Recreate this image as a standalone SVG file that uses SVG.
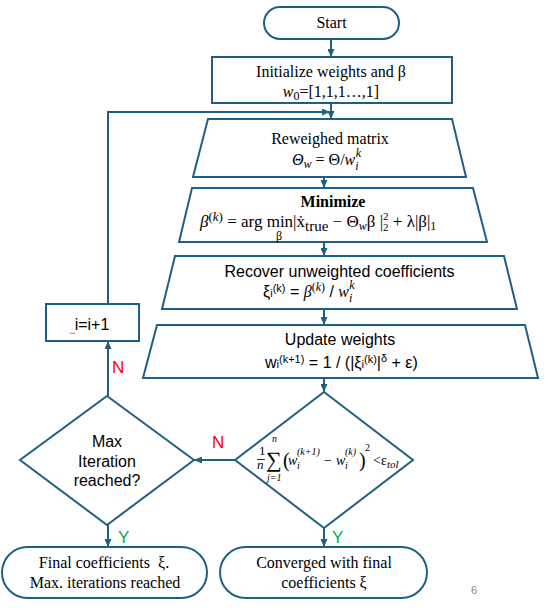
<svg xmlns="http://www.w3.org/2000/svg" width="550" height="610" viewBox="0 0 550 610">
<defs>
<marker id="ah" markerWidth="8" markerHeight="7" refX="8" refY="3.5" orient="auto" markerUnits="userSpaceOnUse">
<path d="M0,0 L8,3.5 L0,7 z" fill="#1f6082"/>
</marker>
<style>
.s{fill:#fff;stroke:#1f6082;stroke-width:2}
.c{fill:none;stroke:#1f6082;stroke-width:2}
.t{font-family:"Liberation Serif","Times New Roman",serif;font-size:16px;fill:#000}
.a{font-family:"Liberation Sans",Arial,sans-serif;font-size:16px;fill:#000}
.m{font-family:"Liberation Serif","Times New Roman",serif;fill:#000}
.i{font-style:italic}
.lab{font-family:"Liberation Sans",Arial,sans-serif;font-size:17px}
</style>
</defs>
<rect width="550" height="610" fill="#fff"/>

<g id="connectors">
<path class="c" d="M331,39 V57" marker-end="url(#ah)"/>
<path class="c" d="M331,103 V119" marker-end="url(#ah)"/>
<path class="c" d="M108,304 V112 H330" marker-end="url(#ah)"/>
<path class="c" d="M324,177 V188" marker-end="url(#ah)"/>
<path class="c" d="M324,242 V256" marker-end="url(#ah)"/>
<path class="c" d="M324,309 V325" marker-end="url(#ah)"/>
<path class="c" d="M324,378 V392" marker-end="url(#ah)"/>
<path class="c" d="M235,460 H194" marker-end="url(#ah)"/>
<path class="c" d="M108,396 V341" marker-end="url(#ah)"/>
<path class="c" d="M108,525 V547" marker-end="url(#ah)"/>
<path class="c" d="M324,528 V547" marker-end="url(#ah)"/>
<text class="lab" x="112" y="373" fill="#ff0000">N</text>
<text class="lab" x="212" y="448" fill="#ff0000">N</text>
<text class="lab" x="118" y="543" fill="#00b050">Y</text>
<text class="lab" x="332" y="543" fill="#00b050">Y</text>
</g>

<g id="start">
<rect class="s" x="264" y="7" width="135" height="32" rx="16"/>
<text class="t" x="331.5" y="28" text-anchor="middle">Start</text>
</g>

<g id="init">
<rect class="s" x="212" y="57" width="240" height="46"/>
<text class="t" x="331" y="77" text-anchor="middle">Initialize weights and β</text>
<text class="t" x="331" y="97" text-anchor="middle"><tspan class="i">w</tspan><tspan font-size="12" dy="3">0</tspan><tspan dy="-3">=[1,1,1…,1]</tspan></text>
</g>

<g id="reweigh">
<path class="s" d="M208,119 H452 L466,177 H193 Z"/>
<text class="t" x="330" y="144" text-anchor="middle">Reweighed matrix</text>
<text class="m" font-size="16" x="292" y="165"><tspan class="i">Θ</tspan><tspan class="i" font-size="12" dy="3">w</tspan><tspan dy="-3"> = Θ/</tspan><tspan class="i">w</tspan><tspan class="i" font-size="12" dy="5">i</tspan><tspan class="i" font-size="12" dx="-3" dy="-13">k</tspan></text>
</g>

<g id="minimize">
<path class="s" d="M192,188 H473 L487,242 H179 Z"/>
<text class="t" x="333" y="207" text-anchor="middle" font-weight="bold">Minimize</text>
<text class="m" font-size="17" x="200" y="227"><tspan class="i">β</tspan><tspan font-size="13" dy="-6">(</tspan><tspan font-size="13" class="i">k</tspan><tspan font-size="13">)</tspan><tspan dy="6"> = arg min|ẋ</tspan><tspan font-size="15" dy="4">true</tspan><tspan dy="-4"> − Θ</tspan><tspan class="i" font-size="12" dy="3">w</tspan><tspan dy="-3">β |</tspan><tspan font-size="11" dy="-7">2</tspan><tspan font-size="11" dx="-5.5" dy="11">2</tspan><tspan dy="-4"> + λ|β|</tspan><tspan font-size="12" dy="3">1</tspan></text>
<text class="m" x="276" y="240" font-size="12">β</text>
</g>

<g id="recover">
<path class="s" d="M175,256 H504 L517,309 H162 Z"/>
<text class="a" x="339.5" y="277" text-anchor="middle">Recover unweighted coefficients</text>
<text class="a" x="263" y="297">ξ<tspan font-size="11">i</tspan><tspan font-size="11" dy="-5">(k)</tspan><tspan dy="5"> = </tspan><tspan class="m i" font-size="16">β</tspan><tspan class="m" font-size="12" dy="-6">(</tspan><tspan class="m i" font-size="12">k</tspan><tspan class="m" font-size="12">)</tspan><tspan dy="6"> / </tspan><tspan class="m i" font-size="16">w</tspan><tspan class="m i" font-size="12" dy="5">i</tspan><tspan class="m i" font-size="12" dx="-3" dy="-13">k</tspan></text>
</g>

<g id="update">
<path class="s" d="M157,325 H525 L538,378 H143 Z"/>
<text class="a" x="340" y="345" text-anchor="middle">Update weights</text>
<text class="a" x="265" y="368">w<tspan font-size="11">i</tspan><tspan font-size="11" dy="-5">(k+1)</tspan><tspan dy="5"> = 1 / (|ξ</tspan><tspan font-size="11">i</tspan><tspan font-size="11" dy="-5">(k)</tspan><tspan dy="5">|</tspan><tspan font-size="11" dy="-6">δ</tspan><tspan dy="6"> + ε)</tspan></text>
</g>

<g id="converge-check">
<path class="s" d="M324,392 L413,460 L324,528 L235,460 Z"/>
<g class="m">
<text x="259" y="455" font-size="13">1</text>
<line x1="257" y1="459.5" x2="265" y2="459.5" stroke="#000" stroke-width="0.8"/>
<text x="257" y="469" font-size="13" class="i">n</text>
<text x="266" y="467" font-size="22">∑</text>
<text x="272" y="442" font-size="10" class="i">n</text>
<text x="267" y="481" font-size="10" class="i">j=1</text>
<text x="283" y="467" font-size="20">(</text>
<text x="288" y="465" font-size="14" class="i">w</text>
<text x="297" y="455" font-size="10" class="i">(k+1)</text>
<text x="297" y="469" font-size="10" class="i">i</text>
<text x="324" y="465" font-size="14">−</text>
<text x="336" y="465" font-size="14" class="i">w</text>
<text x="345" y="455" font-size="10" class="i">(k)</text>
<text x="345" y="469" font-size="10" class="i">i</text>
<text x="359" y="467" font-size="20">)</text>
<text x="365" y="451" font-size="10">2</text>
<text x="373" y="465" font-size="14">&lt;ε</text>
<text x="387" y="468" font-size="11" class="i">tol</text>
</g>
</g>

<g id="max-iter">
<path class="s" d="M107,396 L194,460 L107,525 L20,460 Z"/>
<text class="a" x="107" y="447" text-anchor="middle">Max</text>
<text class="a" x="107" y="467" text-anchor="middle">Iteration</text>
<text class="a" x="107" y="486" text-anchor="middle">reached?</text>
</g>

<g id="increment">
<rect class="s" x="46" y="304" width="93" height="37"/>
<text class="a" x="92" y="330" text-anchor="middle" font-size="19">i=i+1</text>
<path d="M70,334 l1.3,-1.3 l1.3,1.3 l1.3,-1.3 l1.3,1.3" fill="none" stroke="#e03030" stroke-width="0.8"/>
</g>

<g id="final">
<rect class="s" x="2" y="547" width="205" height="51" rx="25.5"/>
<text class="t" x="104" y="568" text-anchor="middle" xml:space="preserve">Final coefficients  ξ.</text>
<text class="t" x="105" y="588" text-anchor="middle">Max. iterations reached</text>
</g>

<g id="converged">
<rect class="s" x="220" y="547" width="207" height="51" rx="25.5"/>
<text class="t" x="324" y="568" text-anchor="middle">Converged with final</text>
<text class="t" x="324" y="588" text-anchor="middle">coefficients ξ</text>
</g>

<text x="474" y="594" text-anchor="middle" font-family="Liberation Sans, Arial, sans-serif" font-size="11" fill="#888">6</text>
</svg>
